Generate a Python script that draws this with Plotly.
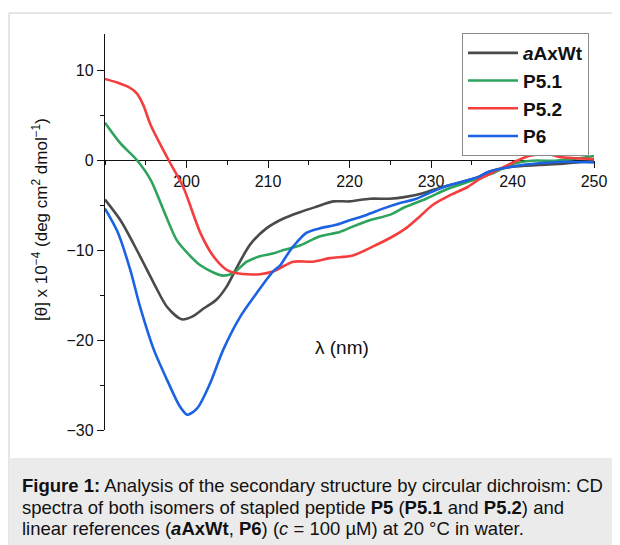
import plotly.graph_objects as go

# ---- data ----
wl_aAxWt = [190.0, 191.9, 193.9, 196.0, 197.6, 199.4, 200.7, 202.1, 203.7, 204.9, 206.2, 207.8,
            209.8, 211.9, 213.9, 215.9, 218.0, 220.0, 222.5, 224.9, 226.9, 229.0, 231.0, 233.1,
            235.9, 237.1, 240.0, 243.2, 246.5, 250.0]
cd_aAxWt = [-4.4, -6.7, -10.0, -13.7, -16.3, -17.7, -17.4, -16.5, -15.5, -14.1, -11.9, -9.4,
            -7.6, -6.5, -5.8, -5.2, -4.6, -4.6, -4.3, -4.3, -4.1, -3.7, -3.1, -2.6,
            -1.85, -1.3, -0.75, -0.55, -0.37, -0.08]

wl_P51 = [190.0, 191.9, 193.9, 195.6, 197.2, 198.8, 200.5, 201.7, 203.3, 204.5, 205.7, 207.4,
          209.0, 210.6, 211.9, 213.9, 216.3, 218.8, 220.4, 222.5, 224.9, 226.9, 229.4, 231.8,
          234.3, 235.9, 237.5, 240.0, 242.4, 245.3, 248.1, 250.0]
cd_P51 = [4.15, 1.85, 0.0, -2.2, -5.6, -8.9, -10.7, -11.7, -12.5, -12.85, -12.6, -11.3,
          -10.7, -10.4, -10.0, -9.5, -8.5, -8.0, -7.4, -6.7, -6.1, -5.2, -4.3, -3.3,
          -2.5, -2.0, -1.5, -0.45, -0.08, -0.08, 0.2, 0.45]

wl_P52 = [190.0, 191.5, 193.1, 193.9, 194.7, 195.6, 197.8, 199.6, 201.7, 203.3, 204.9, 205.7,
          207.5, 209.0, 210.6, 211.5, 213.1, 215.5, 217.6, 220.4, 222.9, 225.3, 226.9, 228.6,
          230.2, 232.6, 234.5, 236.0, 237.1, 240.0, 242.0, 244.1, 246.1, 247.7, 250.0]
cd_P52 = [9.0, 8.6, 8.0, 7.4, 6.1, 3.9, 0.0, -3.0, -8.1, -10.7, -12.2, -12.5,
          -12.7, -12.7, -12.4, -12.0, -11.3, -11.3, -10.9, -10.6, -9.6, -8.5, -7.6, -6.3,
          -5.0, -3.8, -3.0, -2.1, -1.6, -0.3, 0.44, 0.67, 0.3, 0.2, 0.1]

wl_P6 = [190.0, 191.5, 193.1, 194.3, 196.0, 197.6, 199.2, 200.1, 201.3, 202.9, 204.5, 206.6,
         208.6, 210.6, 211.5, 212.3, 213.1, 214.7, 216.3, 218.4, 220.0, 222.1, 224.1, 226.1,
         228.2, 230.2, 232.2, 234.3, 235.9, 237.1, 240.4, 243.2, 246.5, 250.0]
cd_P6 = [-5.4, -7.9, -12.2, -16.3, -21.1, -24.4, -27.4, -28.3, -27.6, -24.8, -21.1, -17.4,
         -14.8, -12.4, -11.7, -10.6, -9.6, -8.1, -7.6, -7.2, -6.7, -6.1, -5.4, -4.8,
         -4.3, -3.5, -2.8, -2.3, -1.85, -1.3, -0.67, -0.37, -0.19, -0.26]

series_names = ["<i>a</i>AxWt", "P5.1", "P5.2", "P6"]
series_x = [wl_aAxWt, wl_P51, wl_P52, wl_P6]
series_y = [cd_aAxWt, cd_P51, cd_P52, cd_P6]
series_colors = ["#4a4a4a", "#2ea35c", "#f53d3d", "#1b63e3"]

x_ticks = [200, 210, 220, 230, 240, 250]
y_ticks = [10, 0, -10, -20, -30]
x_range = [190, 250]
y_range = [-30, 14]

caption_lines = [
    "<b>Figure 1:</b> Analysis of the secondary structure by circular dichroism: CD",
    "spectra of both isomers of stapled peptide <b>P5</b> (<b>P5.1</b> and <b>P5.2</b>) and",
    "linear references (<b><i>a</i>AxWt</b>, <b>P6</b>) (<i>c</i> = 100 µM) at 20 °C in water.",
]

# ---- layout geometry (page pixels; the page body has an 8px margin) ----
OFF = 8
W, H = 620 - OFF, 545 - OFF
PLOT_L, PLOT_R, PLOT_T, PLOT_B = 105, 594, 34, 430   # page coords of plot area
L = PLOT_L - OFF
T = PLOT_T - OFF
R = W - (PLOT_R - OFF)
B = H - (PLOT_B - OFF)
PW, PH = PLOT_R - PLOT_L, PLOT_B - PLOT_T

def px(x):
    return (x - PLOT_L) / PW

def py(y):
    return (PLOT_B - y) / PH

FONT = "Liberation Sans, Arial, sans-serif"
INK = "#111111"

fig = go.Figure()
for name, xs, ys, c in zip(series_names, series_x, series_y, series_colors):
    fig.add_trace(go.Scatter(
        x=xs, y=ys, mode="lines", name="<b>" + name + "</b>",
        line=dict(color=c, width=2.6, shape="spline", smoothing=0.8),
    ))

x_pos = (0 - y_range[0]) / (y_range[1] - y_range[0])

fig.update_layout(
    width=W, height=H,
    margin=dict(l=L, r=R, t=T, b=B, pad=0),
    paper_bgcolor="white", plot_bgcolor="white",
    font=dict(family=FONT, color=INK, size=16),
    showlegend=True,
    legend=dict(
        x=px(462), y=py(33), xanchor="left", yanchor="top",
        bgcolor="white", bordercolor="#8a8a8a", borderwidth=1,
        font=dict(size=19, color=INK, family=FONT),
        itemwidth=50, tracegroupgap=0,
    ),
    xaxis=dict(
        range=x_range, tickvals=x_ticks, ticks="outside", ticklen=7, tickwidth=1.3,
        tickcolor=INK, showline=True, linecolor=INK, linewidth=1.4, layer="below traces",
        showgrid=False, zeroline=False, anchor="free", position=x_pos,
        minor=dict(dtick=5, tick0=190, ticks="outside", ticklen=4, tickwidth=1.3, tickcolor=INK),
        tickfont=dict(size=16),
    ),
    yaxis=dict(
        range=y_range, tickvals=y_ticks, ticks="outside", ticklen=7, tickwidth=1.3,
        tickcolor=INK, showline=True, linecolor=INK, linewidth=1.4, layer="below traces",
        showgrid=False, zeroline=False,
        minor=dict(dtick=5, tick0=0, ticks="outside", ticklen=4, tickwidth=1.3, tickcolor=INK),
        tickfont=dict(size=16),
    ),
)

# outer frame and caption box
fig.add_shape(type="line", xref="paper", yref="paper", x0=px(9), x1=px(625), y0=py(13), y1=py(13),
              line=dict(color="#dcdcdc", width=1.5), layer="below")
fig.add_shape(type="line", xref="paper", yref="paper", x0=px(9), x1=px(9), y0=py(13), y1=py(550),
              line=dict(color="#dcdcdc", width=1.5), layer="below")
fig.add_shape(type="rect", xref="paper", yref="paper", x0=px(9), x1=px(625), y0=py(458), y1=py(550),
              fillcolor="#ebebeb", line=dict(width=0), layer="below")

# axis titles
fig.add_annotation(xref="paper", yref="paper", x=px(40), y=py(220), xanchor="center", yanchor="middle",
                   text="[θ] x 10<sup>−4</sup> (deg cm<sup>2</sup> dmol<sup>−1</sup>)",
                   textangle=-90, showarrow=False, font=dict(size=17, color=INK))
fig.add_annotation(xref="paper", yref="paper", x=px(342), y=py(347), xanchor="center", yanchor="middle",
                   text="λ (nm)", showarrow=False, font=dict(size=19, color=INK))

# caption, one annotation per line
for i, line in enumerate(caption_lines):
    fig.add_annotation(xref="paper", yref="paper", x=px(20), y=py(485.5 + 21.5 * i),
                       xanchor="left", yanchor="middle", align="left", text=line,
                       showarrow=False, font=dict(size=18.5, color=INK, family=FONT))

fig.write_html("out.html")
